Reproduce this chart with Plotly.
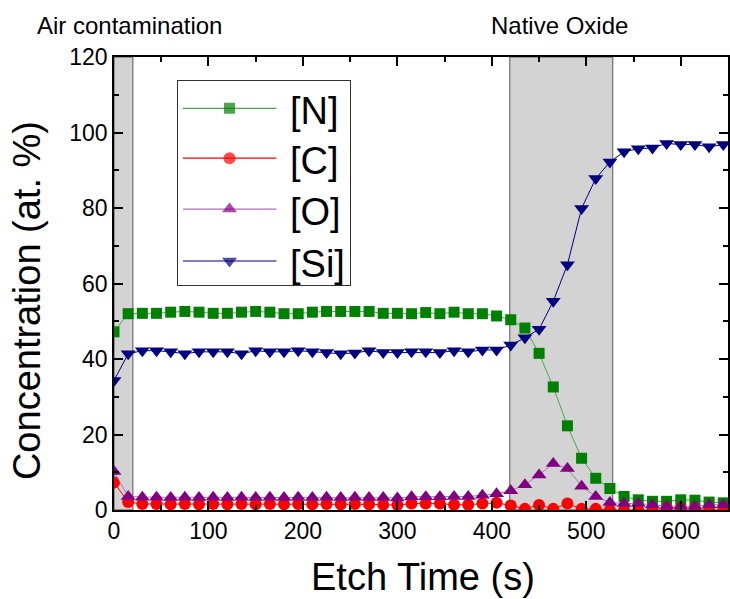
import plotly.graph_objects as go

time_s = [0, 15, 30, 45, 60, 75, 90, 105, 120, 135, 150, 165, 180, 195, 210, 225, 240, 255,
          270, 285, 300, 315, 330, 345, 360, 375, 390, 405, 420, 435, 450, 465, 480, 495,
          510, 525, 540, 555, 570, 585, 600, 615, 630, 645]

N = [47.2, 52.0, 52.1, 52.1, 52.4, 52.6, 52.4, 52.1, 52.1, 52.4, 52.6, 52.4, 52.0, 52.0, 52.4,
     52.6, 52.6, 52.6, 52.6, 52.1, 52.1, 52.0, 52.3, 52.0, 52.4, 52.0, 52.0, 51.4, 50.4, 48.2,
     41.5, 32.6, 22.3, 13.7, 8.4, 5.7, 3.6, 2.7, 2.3, 2.3, 2.7, 2.6, 2.1, 1.9]

C = [7.3, 2.1, 1.6, 1.6, 1.5, 1.6, 1.5, 1.6, 1.5, 1.6, 1.5, 1.6, 1.5, 1.6, 1.5, 1.6, 1.5, 1.6,
     1.5, 1.4, 1.3, 1.7, 1.7, 1.7, 1.4, 1.4, 1.7, 1.9, 1.2, 0.3, 1.3, 0.3, 1.7, 0.3, 0.3, 0.0,
     0.0, 0.0, 0.0, 0.6, 0.5, 0.5, 0.0, 0.0]

O = [10.2, 3.6, 3.4, 3.4, 3.3, 3.4, 3.3, 3.4, 3.3, 3.4, 3.3, 3.4, 3.3, 3.4, 3.3, 3.4, 3.3, 3.4,
     3.3, 3.3, 3.2, 3.5, 3.5, 3.5, 3.6, 3.6, 3.9, 4.3, 5.1, 6.7, 9.3, 12.3, 11.0, 6.3, 3.6, 2.0,
     1.7, 1.7, 1.4, 1.0, 1.0, 1.0, 1.4, 1.4]

Si = [34.3, 41.4, 42.2, 42.2, 41.9, 41.4, 41.9, 41.9, 41.9, 41.4, 42.2, 41.9, 41.9, 42.2, 41.9,
      41.7, 41.4, 41.6, 42.2, 41.7, 41.7, 41.9, 41.9, 41.7, 42.2, 41.9, 42.4, 42.4, 43.7, 45.6,
      47.9, 55.3, 65.0, 79.9, 87.8, 92.2, 94.9, 95.7, 95.9, 97.1, 96.8, 96.8, 96.2, 96.8]

series_names = ["[N]", "[C]", "[O]", "[Si]"]
region_bounds = [(0, 20), (419, 528)]
region_labels = ["Air contamination", "Native Oxide"]
x_title = "Etch Time (s)"
y_title = "Concentration (at. %)"

FONT = "Liberation Sans, Arial, sans-serif"

styles = [
    dict(lc="#4aa84a", mc="#008000", sym="square", sz=11),
    dict(lc="#ff0000", mc="#ff0000", sym="circle", sz=12),
    dict(lc="#b070c0", mc="#800080", sym="triangle-up", sz=13),
    dict(lc="#000080", mc="#000080", sym="triangle-down", sz=13),
]
values = [N, C, O, Si]

fig = go.Figure()
for name, vals, st in zip(series_names, values, styles):
    fig.add_trace(go.Scatter(
        x=time_s, y=vals, name=name, mode="lines+markers", showlegend=False,
        line=dict(color=st["lc"], width=1),
        marker=dict(color=st["mc"], symbol=st["sym"], size=st["sz"], line=dict(width=0)),
    ))

# legend drawn in an inset subplot (box = inset axis frame)
leg_rows = [0.868, 0.623, 0.373, 0.118]
for name, st, row in zip(series_names, styles, leg_rows):
    fig.add_trace(go.Scatter(
        x=[0.03, 0.30, 0.572], y=[row, row, row], mode="lines+markers", showlegend=False,
        xaxis="x2", yaxis="y2", hoverinfo="skip",
        line=dict(color=st["lc"], width=1.2),
        marker=dict(color=st["mc"], symbol=st["sym"], size=[0, st["sz"], 0], line=dict(width=0)),
    ))
    fig.add_annotation(text=name, xref="x2", yref="y2", x=0.64, y=row, yshift=-3,
                       xanchor="left", yanchor="middle", showarrow=False,
                       font=dict(size=38, color="black", family=FONT))

for (x0, x1) in region_bounds:
    fig.add_shape(type="rect", xref="x", yref="y domain", x0=x0, x1=x1, y0=0, y1=1,
                  fillcolor="#d3d3d3", line=dict(color="#555555", width=1), layer="below")

fig.add_annotation(text=region_labels[0], xref="paper", yref="paper",
                   x=-0.128, y=1.07, xanchor="left", yanchor="middle", showarrow=False,
                   font=dict(size=24, color="black", family=FONT))
fig.add_annotation(text=region_labels[1], xref="x", yref="paper",
                   x=472, y=1.07, xanchor="center", yanchor="middle", showarrow=False,
                   font=dict(size=24, color="black", family=FONT))

# axis titles
fig.add_annotation(text=x_title, xref="paper", yref="paper", x=0.5025, y=-0.148,
                   xanchor="center", yanchor="middle", showarrow=False,
                   font=dict(size=38, color="black", family=FONT))
fig.add_annotation(text=y_title, xref="paper", yref="paper", x=-0.142, y=0.463,
                   xanchor="center", yanchor="middle", showarrow=False, textangle=-90,
                   font=dict(size=38, color="black", family=FONT))

axis_common = dict(
    showgrid=False, zeroline=False, showline=True, linecolor="black", linewidth=1.5,
    mirror="allticks", ticks="inside", ticklen=9, tickwidth=1.5, tickcolor="black",
    tickfont=dict(size=23, color="black", family=FONT),
)

fig.update_layout(
    xaxis=dict(range=[0, 650], dtick=100, tick0=0,
               minor=dict(dtick=50, ticks="inside", ticklen=5, tickwidth=1.5, tickcolor="black"),
               **axis_common),
    yaxis=dict(range=[0, 120], dtick=20, tick0=0,
               minor=dict(dtick=10, ticks="inside", ticklen=5, tickwidth=1.5, tickcolor="black"),
               **axis_common),
    xaxis2=dict(domain=[0.1039, 0.3847], anchor="y2", range=[0, 1], showgrid=False,
                zeroline=False, showticklabels=False, ticks="", showline=True, mirror=True,
                linecolor="#333333", linewidth=1),
    yaxis2=dict(domain=[0.4967, 0.946], anchor="x2", range=[0, 1], showgrid=False,
                zeroline=False, showticklabels=False, ticks="", showline=True, mirror=True,
                linecolor="#333333", linewidth=1),
    width=730, height=599,
    margin=dict(l=114, r=0, t=57, b=89),
    paper_bgcolor="white", plot_bgcolor="white",
    font=dict(family=FONT, color="black"),
    showlegend=False,
)

fig.write_html("out.html")
